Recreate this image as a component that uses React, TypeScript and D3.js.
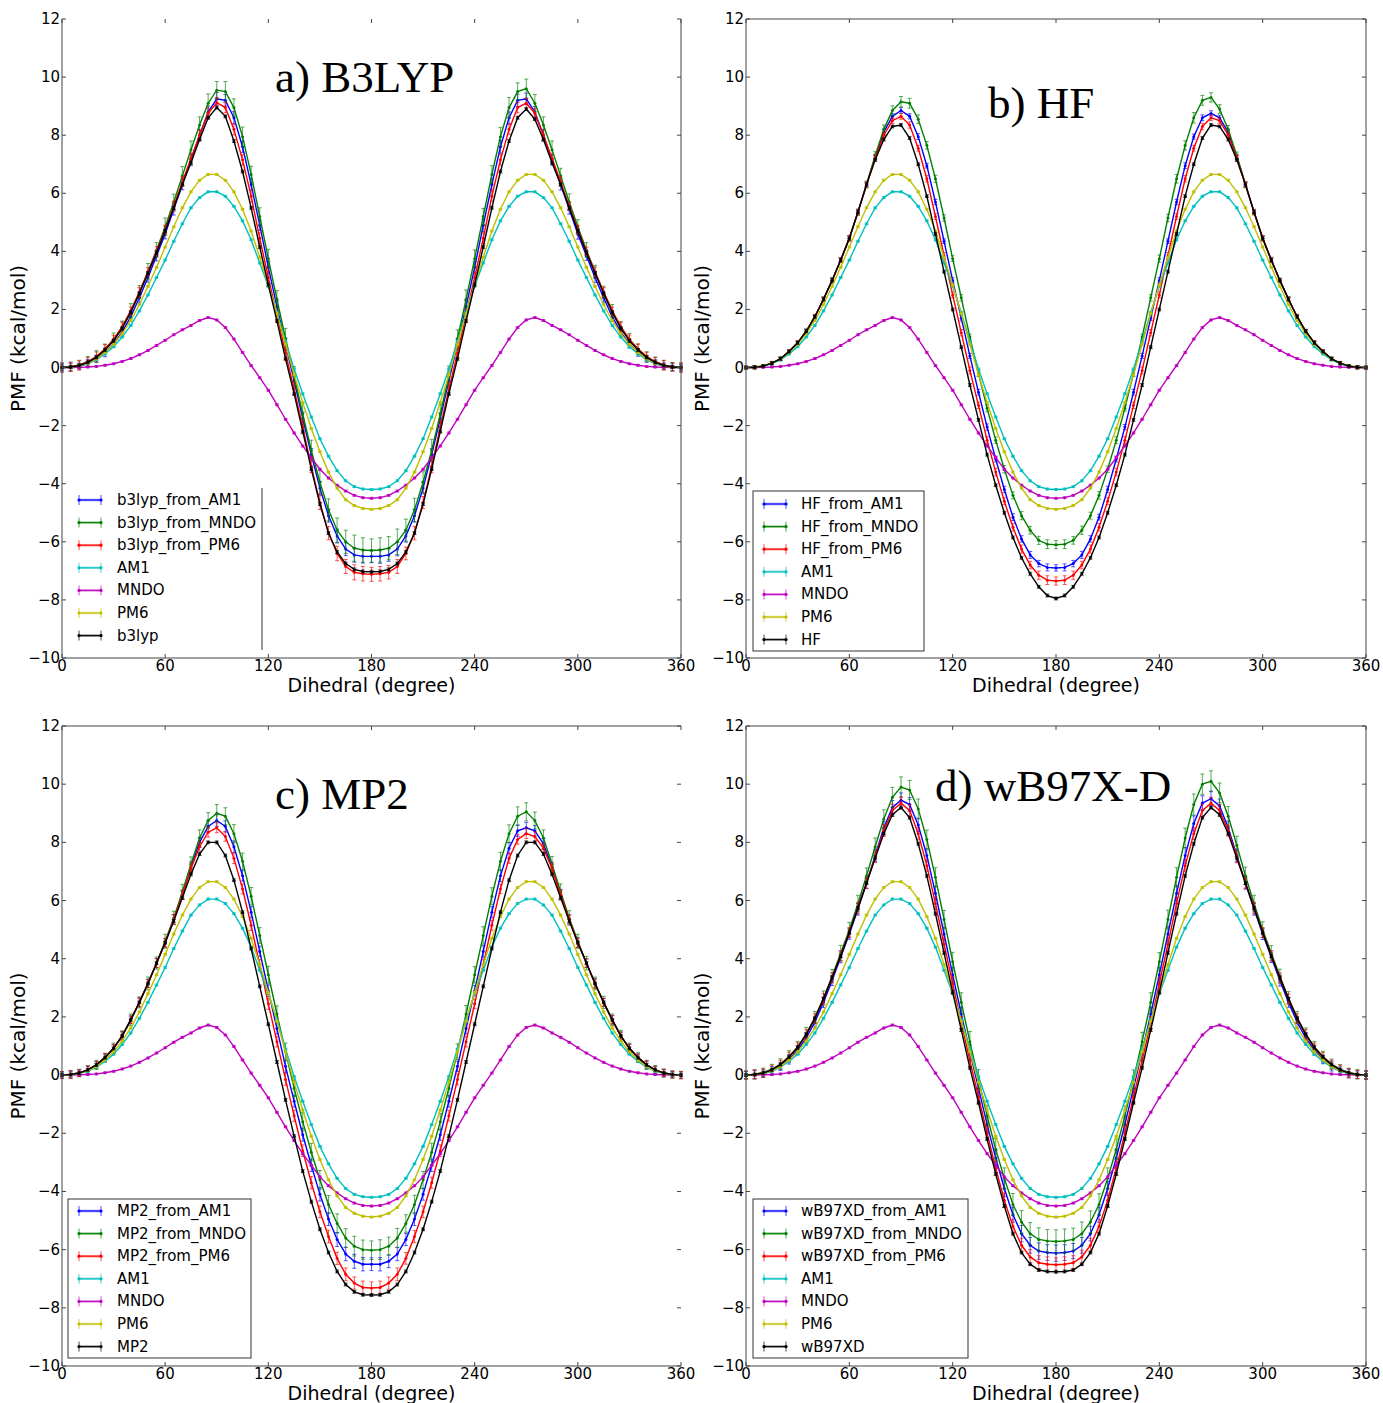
import React from 'react';
import * as d3 from 'd3';

// ---------------- data ----------------
const dihedral = [0,5,10,15,20,25,30,35,40,45,50,55,60,65,70,75,80,85,90,95,100,105,110,115,120,125,130,135,140,145,150,155,160,165,170,175,180,185,190,195,200,205,210,215,220,225,230,235,240,245,250,255,260,265,270,275,280,285,290,295,300,305,310,315,320,325,330,335,340,345,350,355,360];
const xTicks = [0, 60, 120, 180, 240, 300, 360];
const yTicks = [-10, -8, -6, -4, -2, 0, 2, 4, 6, 8, 10, 12];

// semi-empirical PMFs (shared by all panels)
const am1 = [0,.01,.05,.13,.27,.47,.72,1.05,1.45,1.95,2.5,3.1,3.7,4.35,4.95,5.5,5.85,6.05,6.05,5.9,5.55,5.05,4.4,3.6,2.8,1.9,.9,-.05,-.9,-1.7,-2.45,-3.05,-3.55,-3.9,-4.1,-4.18,-4.2,
  -4.18,-4.1,-3.9,-3.55,-3.05,-2.45,-1.7,-.9,-.05,.9,1.9,2.8,3.6,4.4,5.05,5.55,5.9,6.05,6.05,5.85,5.5,4.95,4.35,3.7,3.1,2.5,1.95,1.45,1.05,.72,.47,.27,.13,.05,.01,0];
const mndo = [0,0,.01,.02,.04,.08,.13,.21,.31,.44,.59,.76,.94,1.13,1.3,1.45,1.62,1.72,1.64,1.38,.98,.52,.07,-.35,-.78,-1.28,-1.78,-2.25,-2.7,-3.1,-3.5,-3.8,-4.05,-4.25,-4.4,-4.48,-4.5,
  -4.48,-4.4,-4.25,-4.05,-3.8,-3.5,-3.1,-2.7,-2.25,-1.78,-1.28,-.78,-.35,.07,.52,.98,1.38,1.64,1.72,1.62,1.45,1.3,1.13,.94,.76,.59,.44,.31,.21,.13,.08,.04,.02,.01,0,0];
const pm6 = [0,.01,.06,.15,.3,.52,.8,1.17,1.62,2.17,2.8,3.45,4.15,4.85,5.5,6.05,6.45,6.65,6.65,6.45,6.05,5.45,4.7,3.8,2.85,1.85,.8,-.25,-1.2,-2.1,-2.9,-3.6,-4.15,-4.55,-4.75,-4.85,-4.88,
  -4.85,-4.75,-4.55,-4.15,-3.6,-2.9,-2.1,-1.2,-.25,.8,1.85,2.85,3.8,4.7,5.45,6.05,6.45,6.65,6.65,6.45,6.05,5.5,4.85,4.15,3.45,2.8,2.17,1.62,1.17,.8,.52,.3,.15,.06,.01,0];

// a) B3LYP
const b3lyp = [0,.02,.07,.18,.35,.6,.92,1.35,1.9,2.55,3.25,3.95,4.7,5.5,6.3,7.05,7.85,8.6,8.95,8.65,7.8,6.75,5.5,4.15,2.85,1.6,.3,-.9,-2.2,-3.5,-4.7,-5.7,-6.35,-6.75,-6.95,-7.02,-7.03,
  -7.02,-6.95,-6.75,-6.35,-5.7,-4.7,-3.5,-2.2,-.9,.3,1.6,2.85,4.15,5.5,6.75,7.8,8.6,8.9,8.55,7.85,7.05,6.3,5.5,4.7,3.95,3.25,2.55,1.9,1.35,.92,.6,.35,.18,.07,.02,0];
const b3lypFromPM6 = [0,.02,.08,.2,.38,.64,.97,1.4,1.95,2.6,3.3,4.0,4.75,5.55,6.4,7.2,8.0,8.75,9.12,8.95,8.2,7.15,5.9,4.45,3.1,1.8,.5,-.75,-2.05,-3.4,-4.65,-5.7,-6.4,-6.85,-7.05,-7.1,-7.12,
  -7.1,-7.05,-6.85,-6.4,-5.7,-4.65,-3.4,-2.05,-.75,.5,1.8,3.1,4.45,5.9,7.15,8.2,8.95,9.1,8.75,8.0,7.2,6.4,5.55,4.75,4.0,3.3,2.6,1.95,1.4,.97,.64,.38,.2,.08,.02,0];
const b3lypFromAM1 = [0,.01,.05,.14,.3,.52,.82,1.22,1.75,2.4,3.1,3.85,4.6,5.45,6.3,7.15,8.0,8.8,9.25,9.2,8.6,7.6,6.3,4.9,3.45,2.1,.8,-.45,-1.75,-3.0,-4.15,-5.1,-5.8,-6.25,-6.45,-6.5,-6.5,
  -6.5,-6.45,-6.25,-5.8,-5.1,-4.15,-3.0,-1.75,-.45,.8,2.1,3.45,4.9,6.3,7.6,8.6,9.2,9.25,8.8,8.0,7.15,6.3,5.45,4.6,3.85,3.1,2.4,1.75,1.22,.82,.52,.3,.14,.05,.01,0];
const b3lypFromMNDO = [0,.03,.09,.2,.38,.64,.97,1.4,1.95,2.6,3.3,4.05,4.85,5.7,6.6,7.5,8.35,9.1,9.55,9.5,8.95,7.95,6.65,5.2,3.75,2.35,1.0,-.3,-1.6,-2.85,-3.95,-4.9,-5.6,-6.0,-6.22,-6.28,-6.3,
  -6.28,-6.22,-6.0,-5.6,-4.9,-3.95,-2.85,-1.6,-.3,1.0,2.35,3.75,5.2,6.65,7.95,8.95,9.5,9.6,9.1,8.35,7.5,6.6,5.7,4.85,4.05,3.3,2.6,1.95,1.4,.97,.64,.38,.2,.09,.03,0];
const b3lypFromAM1Err = [.1,.12,.1,.13,.12,.15,.13,.16,.15,.17,.16,.18,.17,.2,.18,.2,.19,.2,
  .22,.2,.21,.19,.2,.18,.2,.19,.21,.2,.22,.21,.23,.22,.24,.22,.25,.23,.22,.24,.22,.23,.21,.22,.2,.21,.19,.2,.18,.2,.19,.21,.2,.22,.2,.21,.2,
  .19,.2,.18,.19,.17,.18,.16,.17,.15,.16,.14,.15,.13,.12,.13,.11,.12,.1];
const b3lypFromMNDOErr = [.15,.16,.14,.18,.2,.17,.22,.2,.25,.22,.28,.25,.3,.27,.32,.3,.28,.32,
  .3,.35,.3,.33,.28,.3,.32,.3,.35,.33,.38,.35,.4,.38,.42,.4,.45,.42,.4,.42,.4,.44,.38,.4,.36,.38,.33,.35,.3,.32,.3,.28,.3,.32,.35,.3,.33,
  .3,.28,.3,.26,.28,.24,.25,.22,.2,.22,.18,.2,.17,.16,.15,.15,.14,.15];
const b3lypFromPM6Err = [.16,.15,.17,.14,.16,.15,.14,.16,.13,.15,.14,.16,.15,.17,.16,.18,.17,.18,
  .18,.17,.19,.18,.2,.19,.21,.2,.22,.21,.23,.22,.24,.23,.25,.24,.26,.25,.24,.25,.23,.24,.22,.23,.21,.22,.2,.21,.19,.2,.18,.19,.17,.18,.17,.18,.17,
  .16,.17,.15,.16,.14,.15,.14,.16,.15,.14,.16,.15,.17,.15,.16,.17,.15,.16];

// b) HF
const hf = [0,.01,.05,.15,.3,.55,.85,1.25,1.75,2.35,3.0,3.7,4.45,5.35,6.3,7.15,7.85,8.3,8.35,7.9,7.0,5.9,4.6,3.3,2.0,.7,-.6,-1.8,-3.0,-4.05,-5.0,-5.85,-6.55,-7.1,-7.55,-7.85,-7.95,
  -7.85,-7.55,-7.1,-6.55,-5.85,-5.0,-4.05,-3.0,-1.8,-.6,.7,2.0,3.3,4.6,5.9,7.0,7.9,8.35,8.3,7.85,7.15,6.3,5.35,4.45,3.7,3.0,2.35,1.75,1.25,.85,.55,.3,.15,.05,.01,0];
const hfFromPM6 = [0,.01,.05,.15,.3,.55,.85,1.25,1.75,2.35,3.0,3.7,4.45,5.35,6.3,7.2,8.0,8.5,8.65,8.35,7.55,6.5,5.2,3.85,2.5,1.2,-.1,-1.3,-2.5,-3.6,-4.6,-5.5,-6.25,-6.8,-7.15,-7.32,-7.35,
  -7.32,-7.15,-6.8,-6.25,-5.5,-4.6,-3.6,-2.5,-1.3,-.1,1.2,2.5,3.85,5.2,6.5,7.55,8.3,8.6,8.5,8.0,7.2,6.3,5.35,4.45,3.7,3.0,2.35,1.75,1.25,.85,.55,.3,.15,.05,.01,0];
const hfFromAM1 = [0,.01,.05,.15,.3,.55,.85,1.25,1.75,2.35,3.0,3.7,4.45,5.35,6.3,7.25,8.1,8.65,8.85,8.65,7.95,6.95,5.7,4.35,3.0,1.7,.4,-.85,-2.05,-3.15,-4.2,-5.15,-5.9,-6.45,-6.75,-6.88,-6.9,
  -6.88,-6.75,-6.45,-5.9,-5.15,-4.2,-3.15,-2.05,-.85,.4,1.7,3.0,4.35,5.7,6.95,7.95,8.6,8.75,8.6,8.1,7.25,6.3,5.35,4.45,3.7,3.0,2.35,1.75,1.25,.85,.55,.3,.15,.05,.01,0];
const hfFromMNDO = [0,.01,.05,.15,.3,.55,.85,1.25,1.75,2.35,3.0,3.7,4.45,5.35,6.3,7.3,8.2,8.85,9.15,9.1,8.55,7.65,6.5,5.15,3.75,2.4,1.05,-.2,-1.4,-2.5,-3.5,-4.4,-5.1,-5.6,-5.95,-6.08,-6.1,
  -6.08,-5.95,-5.6,-5.1,-4.4,-3.5,-2.5,-1.4,-.2,1.05,2.4,3.75,5.15,6.5,7.65,8.6,9.2,9.3,8.9,8.2,7.3,6.3,5.35,4.45,3.7,3.0,2.35,1.75,1.25,.85,.55,.3,.15,.05,.01,0];
const hfFromAM1Err = [.04,.05,.04,.05,.06,.05,.06,.07,.06,.07,.08,.07,.08,.09,.08,.09,.1,.09,
  .1,.09,.1,.08,.09,.08,.09,.1,.09,.1,.11,.1,.11,.12,.11,.12,.11,.12,.11,.12,.11,.12,.11,.1,.11,.1,.09,.1,.09,.08,.09,.08,.09,.1,.09,.1,.09,
  .09,.08,.09,.08,.07,.08,.07,.06,.07,.06,.05,.06,.05,.04,.05,.04,.05,.04];
const hfFromMNDOErr = [.05,.06,.05,.06,.07,.06,.07,.08,.07,.08,.1,.09,.1,.11,.12,.13,.15,.16,
  .18,.17,.15,.13,.12,.11,.1,.11,.1,.11,.12,.11,.13,.12,.14,.13,.14,.15,.14,.15,.13,.14,.12,.13,.11,.12,.1,.11,.1,.11,.12,.13,.15,.16,.18,.17,.16,
  .15,.13,.12,.11,.1,.09,.1,.08,.09,.08,.07,.08,.06,.07,.06,.05,.06,.05];
const hfFromPM6Err = [.05,.06,.05,.06,.05,.06,.07,.06,.07,.08,.07,.08,.09,.08,.09,.1,.09,.1,
  .1,.11,.1,.11,.1,.11,.1,.11,.12,.11,.12,.13,.12,.13,.14,.13,.14,.15,.14,.15,.14,.13,.14,.13,.12,.13,.12,.11,.12,.11,.1,.11,.1,.11,.1,.11,.1,
  .1,.09,.1,.09,.08,.09,.08,.07,.08,.07,.06,.07,.06,.05,.06,.05,.06,.05];

// c) MP2
const mp2 = [0,.02,.07,.18,.35,.6,.92,1.35,1.9,2.5,3.15,3.85,4.55,5.3,6.1,6.9,7.6,8.0,8.0,7.55,6.7,5.6,4.35,3.05,1.75,.45,-.85,-2.1,-3.3,-4.35,-5.3,-6.1,-6.75,-7.2,-7.45,-7.55,-7.56,
  -7.55,-7.45,-7.2,-6.75,-6.1,-5.3,-4.35,-3.3,-2.1,-.85,.45,1.75,3.05,4.35,5.6,6.7,7.55,8.0,8.0,7.6,6.9,6.1,5.3,4.55,3.85,3.15,2.5,1.9,1.35,.92,.6,.35,.18,.07,.02,0];
const mp2FromPM6 = [0,.02,.07,.18,.35,.6,.92,1.35,1.9,2.5,3.15,3.85,4.55,5.35,6.2,7.1,7.85,8.35,8.5,8.2,7.45,6.4,5.15,3.8,2.45,1.15,-.15,-1.4,-2.6,-3.7,-4.7,-5.55,-6.3,-6.85,-7.15,-7.3,-7.32,
  -7.3,-7.15,-6.85,-6.3,-5.55,-4.7,-3.7,-2.6,-1.4,-.15,1.15,2.45,3.8,5.15,6.4,7.45,8.1,8.3,8.2,7.8,7.1,6.2,5.35,4.55,3.85,3.15,2.5,1.9,1.35,.92,.6,.35,.18,.07,.02,0];
const mp2FromAM1 = [0,.02,.07,.18,.35,.6,.92,1.35,1.9,2.5,3.15,3.85,4.55,5.35,6.2,7.15,8.0,8.55,8.75,8.55,7.85,6.85,5.6,4.25,2.9,1.6,.3,-.9,-2.05,-3.1,-4.1,-4.95,-5.65,-6.15,-6.4,-6.5,-6.5,
  -6.5,-6.4,-6.15,-5.65,-4.95,-4.1,-3.1,-2.05,-.9,.3,1.6,2.9,4.25,5.6,6.85,7.8,8.4,8.5,8.4,7.95,7.15,6.2,5.35,4.55,3.85,3.15,2.5,1.9,1.35,.92,.6,.35,.18,.07,.02,0];
const mp2FromMNDO = [0,.02,.07,.18,.35,.6,.92,1.35,1.9,2.5,3.15,3.85,4.6,5.4,6.3,7.25,8.15,8.75,9.0,8.9,8.3,7.35,6.15,4.8,3.45,2.1,.8,-.45,-1.6,-2.65,-3.6,-4.45,-5.1,-5.6,-5.88,-6.0,-6.02,
  -6.0,-5.88,-5.6,-5.1,-4.45,-3.6,-2.65,-1.6,-.45,.8,2.1,3.45,4.8,6.15,7.35,8.3,8.9,9.05,8.75,8.15,7.25,6.3,5.4,4.6,3.85,3.15,2.5,1.9,1.35,.92,.6,.35,.18,.07,.02,0];
const mp2FromAM1Err = [.1,.11,.1,.12,.11,.13,.12,.14,.13,.15,.14,.16,.15,.17,.16,.18,.17,.19,
  .2,.19,.2,.18,.19,.18,.2,.19,.21,.2,.22,.21,.23,.22,.24,.23,.24,.23,.22,.23,.22,.23,.21,.22,.2,.21,.19,.2,.18,.19,.18,.2,.19,.2,.19,.2,.19,
  .18,.19,.17,.18,.16,.17,.15,.16,.14,.15,.13,.14,.12,.13,.11,.12,.1,.11];
const mp2FromMNDOErr = [.12,.14,.13,.15,.16,.15,.18,.17,.2,.19,.22,.21,.24,.23,.26,.25,.28,.27,
  .3,.29,.31,.28,.3,.27,.29,.28,.3,.29,.31,.3,.32,.31,.33,.32,.34,.33,.32,.34,.31,.33,.3,.32,.29,.31,.28,.3,.27,.29,.28,.3,.29,.31,.3,.32,.31,
  .29,.28,.26,.27,.25,.24,.23,.22,.21,.2,.19,.18,.17,.16,.15,.14,.13,.12];
const mp2FromPM6Err = [.12,.13,.12,.13,.12,.14,.13,.14,.13,.15,.14,.15,.14,.16,.15,.16,.15,.17,
  .17,.16,.18,.17,.18,.17,.19,.18,.2,.19,.2,.21,.2,.22,.21,.22,.21,.22,.21,.22,.21,.22,.2,.21,.2,.19,.2,.18,.19,.18,.17,.18,.17,.16,.17,.16,.17,
  .16,.15,.16,.15,.14,.15,.14,.15,.13,.14,.13,.14,.12,.13,.12,.13,.12,.13];

// d) wB97X-D
const wb97xd = [0,.02,.07,.18,.36,.62,.95,1.4,1.95,2.62,3.35,4.1,4.9,5.75,6.6,7.45,8.3,8.95,9.2,8.85,7.95,6.85,5.55,4.2,2.85,1.55,.25,-.95,-2.2,-3.4,-4.5,-5.45,-6.1,-6.5,-6.7,-6.75,-6.76,
  -6.75,-6.7,-6.5,-6.1,-5.45,-4.5,-3.4,-2.2,-.95,.25,1.55,2.85,4.2,5.55,6.85,7.95,8.85,9.2,8.95,8.3,7.45,6.6,5.75,4.9,4.1,3.35,2.62,1.95,1.4,.95,.62,.36,.18,.07,.02,0];
const wbFromPM6 = [0,.02,.07,.18,.36,.62,.95,1.4,1.95,2.62,3.35,4.1,4.9,5.75,6.6,7.5,8.4,9.1,9.35,9.1,8.3,7.2,5.9,4.5,3.15,1.8,.5,-.75,-2.0,-3.2,-4.3,-5.2,-5.85,-6.25,-6.45,-6.5,-6.52,
  -6.5,-6.45,-6.25,-5.85,-5.2,-4.3,-3.2,-2.0,-.75,.5,1.8,3.15,4.5,5.9,7.2,8.3,9.1,9.35,9.1,8.4,7.5,6.6,5.75,4.9,4.1,3.35,2.62,1.95,1.4,.95,.62,.36,.18,.07,.02,0];
const wbFromAM1 = [0,.01,.05,.14,.3,.54,.86,1.28,1.82,2.5,3.25,4.05,4.85,5.7,6.6,7.55,8.5,9.2,9.45,9.3,8.6,7.55,6.25,4.85,3.45,2.1,.8,-.45,-1.7,-2.85,-3.9,-4.8,-5.45,-5.85,-6.05,-6.1,-6.12,
  -6.1,-6.05,-5.85,-5.45,-4.8,-3.9,-2.85,-1.7,-.45,.8,2.1,3.45,4.85,6.25,7.55,8.65,9.35,9.5,9.25,8.5,7.55,6.6,5.7,4.85,4.05,3.25,2.5,1.82,1.28,.86,.54,.3,.14,.05,.01,0];
const wbFromMNDO = [0,.03,.09,.2,.38,.64,.97,1.42,1.98,2.65,3.4,4.2,5.0,5.9,6.85,7.85,8.8,9.55,9.9,9.8,9.15,8.1,6.8,5.35,3.9,2.5,1.15,-.15,-1.4,-2.55,-3.55,-4.45,-5.05,-5.45,-5.65,-5.7,-5.72,
  -5.7,-5.65,-5.45,-5.05,-4.45,-3.55,-2.55,-1.4,-.15,1.15,2.5,3.9,5.35,6.8,8.15,9.3,10.0,10.1,9.7,8.9,7.9,6.85,5.9,5.0,4.2,3.4,2.65,1.98,1.42,.97,.64,.38,.2,.09,.03,0];
const wbFromAM1Err = [.12,.14,.13,.15,.14,.16,.15,.17,.16,.18,.17,.19,.18,.2,.19,.21,.22,.24,
  .25,.24,.23,.22,.23,.22,.24,.23,.25,.24,.26,.25,.27,.26,.28,.27,.28,.27,.28,.27,.26,.27,.25,.26,.24,.25,.23,.24,.22,.23,.24,.25,.26,.27,.26,.25,.26,
  .24,.23,.22,.21,.2,.19,.18,.19,.17,.18,.16,.17,.15,.16,.14,.15,.13,.12];
const wbFromMNDOErr = [.14,.16,.15,.17,.18,.2,.19,.22,.21,.24,.23,.26,.25,.28,.27,.3,.32,.34,
  .35,.33,.34,.32,.33,.31,.32,.33,.35,.34,.36,.37,.36,.38,.39,.38,.4,.39,.4,.41,.39,.4,.38,.37,.36,.35,.34,.33,.32,.33,.31,.32,.33,.34,.36,.35,.36,
  .34,.33,.31,.3,.28,.27,.25,.24,.22,.21,.2,.19,.18,.17,.16,.15,.16,.15];
const wbFromPM6Err = [.14,.15,.14,.16,.15,.17,.16,.17,.16,.18,.17,.18,.17,.19,.18,.19,.2,.21,
  .21,.2,.21,.2,.21,.2,.22,.21,.22,.23,.22,.23,.24,.23,.24,.25,.24,.25,.24,.25,.24,.23,.24,.23,.22,.23,.22,.21,.22,.21,.2,.21,.2,.21,.2,.21,.2,
  .2,.19,.2,.18,.19,.17,.18,.16,.17,.16,.17,.15,.16,.15,.16,.15,.14,.15];

const methodErr = 0.05;
const semiErr = 0.03;

// ---------------- styling ----------------
const C = {
  blue: '#0000ff', green: '#008000', red: '#ff0000', cyan: '#00bfbf',
  magenta: '#bf00bf', yellow: '#bfbf00', black: '#000000',
};
const SANS = "'DejaVu Sans', Verdana, sans-serif";
const SERIF = "'Liberation Serif', 'Times New Roman', serif";

type Series = { label: string; values: number[]; err: number[] | number; color: string };
type Spines = { left: boolean; right: boolean; top: boolean; bottom: boolean };
type LegendCfg = { frame: 'right' | 'full'; bx: number; by: number; bw: number; bh: number; row0: number; step: number; hx: number; tx: number };
type PanelCfg = { title: string; tx: number; ty: number; x0: number; x1: number; yTop: number; yBot: number; spines: Spines; legend: LegendCfg; series: Series[] };

function makeSeries(prefix: string, method: string, fromAM1: number[], fromMNDO: number[], fromPM6: number[], methodVals: number[],
  eA: number[], eM: number[], eP: number[]): Series[] {
  return [
    { label: `${prefix}_from_AM1`, values: fromAM1, err: eA, color: C.blue },
    { label: `${prefix}_from_MNDO`, values: fromMNDO, err: eM, color: C.green },
    { label: `${prefix}_from_PM6`, values: fromPM6, err: eP, color: C.red },
    { label: 'AM1', values: am1, err: semiErr, color: C.cyan },
    { label: 'MNDO', values: mndo, err: semiErr, color: C.magenta },
    { label: 'PM6', values: pm6, err: semiErr, color: C.yellow },
    { label: method, values: methodVals, err: methodErr, color: C.black },
  ];
}

const panels: PanelCfg[] = [
  {
    title: 'a) B3LYP', tx: 275, ty: 92, x0: 62, x1: 681, yTop: 19, yBot: 658,
    spines: { left: true, right: true, top: false, bottom: true },
    legend: { frame: 'right', bx: 68, by: 488, bw: 194, bh: 162, row0: 500, step: 22.6, hx: 79, tx: 117 },
    series: makeSeries('b3lyp', 'b3lyp', b3lypFromAM1, b3lypFromMNDO, b3lypFromPM6, b3lyp, b3lypFromAM1Err, b3lypFromMNDOErr, b3lypFromPM6Err),
  },
  {
    title: 'b) HF', tx: 988, ty: 118, x0: 746, x1: 1366, yTop: 19, yBot: 658,
    spines: { left: true, right: true, top: true, bottom: true },
    legend: { frame: 'full', bx: 753, by: 491, bw: 171, bh: 160, row0: 504, step: 22.6, hx: 764, tx: 801 },
    series: makeSeries('HF', 'HF', hfFromAM1, hfFromMNDO, hfFromPM6, hf, hfFromAM1Err, hfFromMNDOErr, hfFromPM6Err),
  },
  {
    title: 'c) MP2', tx: 275, ty: 809, x0: 62, x1: 681, yTop: 726, yBot: 1366,
    spines: { left: true, right: false, top: true, bottom: true },
    legend: { frame: 'full', bx: 68, by: 1199, bw: 183, bh: 159, row0: 1211, step: 22.6, hx: 79, tx: 117 },
    series: makeSeries('MP2', 'MP2', mp2FromAM1, mp2FromMNDO, mp2FromPM6, mp2, mp2FromAM1Err, mp2FromMNDOErr, mp2FromPM6Err),
  },
  {
    title: 'd) wB97X-D', tx: 935, ty: 801, x0: 746, x1: 1366, yTop: 726, yBot: 1366,
    spines: { left: true, right: true, top: true, bottom: true },
    legend: { frame: 'full', bx: 753, by: 1199, bw: 215, bh: 159, row0: 1211, step: 22.6, hx: 764, tx: 801 },
    series: makeSeries('wB97XD', 'wB97XD', wbFromAM1, wbFromMNDO, wbFromPM6, wb97xd, wbFromAM1Err, wbFromMNDOErr, wbFromPM6Err),
  },
];

const fmt = (v: number) => (v < 0 ? '\u2212' + Math.abs(v) : String(v));

function Panel({ p }: { p: PanelCfg }) {
  const x = d3.scaleLinear().domain([0, 360]).range([p.x0, p.x1]);
  const y = d3.scaleLinear().domain([-10, 12]).range([p.yBot, p.yTop]);
  const line = d3.line<[number, number]>().x(d => x(d[0])).y(d => y(d[1]));
  const tl = 4;
  const spineColor = '#444';
  const lg = p.legend;
  return (
    <g>
      {/* data */}
      {p.series.map((s, si) => {
        const n = Math.min(dihedral.length, s.values.length);
        const pts: [number, number][] = [];
        for (let i = 0; i < n; i++) pts.push([dihedral[i], s.values[i]]);
        return (
          <g key={si}>
            <g stroke={s.color} strokeOpacity={0.65} strokeWidth={1}>
              {pts.map(([a, v], i) => {
                const e = Array.isArray(s.err) ? (s.err[i] ?? 0) : s.err;
                const xx = x(a);
                const y1 = y(v - e), y2 = y(v + e);
                return (
                  <g key={i}>
                    <line x1={xx} x2={xx} y1={y1} y2={y2} />
                    <line x1={xx - 2} x2={xx + 2} y1={y1} y2={y1} />
                    <line x1={xx - 2} x2={xx + 2} y1={y2} y2={y2} />
                  </g>
                );
              })}
            </g>
            <path d={line(pts) || ''} fill="none" stroke={s.color} strokeWidth={1.4} />
            <g fill={s.color}>
              {pts.map(([a, v], i) => <circle key={i} cx={x(a)} cy={y(v)} r={1.5} />)}
            </g>
          </g>
        );
      })}

      {/* spines */}
      <g stroke={spineColor} strokeWidth={1}>
        {p.spines.left && <line x1={p.x0} x2={p.x0} y1={p.yTop} y2={p.yBot} />}
        {p.spines.right && <line x1={p.x1} x2={p.x1} y1={p.yTop} y2={p.yBot} />}
        {p.spines.top && <line x1={p.x0} x2={p.x1} y1={p.yTop} y2={p.yTop} />}
        {p.spines.bottom && <line x1={p.x0} x2={p.x1} y1={p.yBot} y2={p.yBot} />}
      </g>
      {/* ticks (inward, all sides) */}
      <g stroke={spineColor} strokeWidth={1}>
        {xTicks.map(t => (
          <g key={'xt' + t}>
            <line x1={x(t)} x2={x(t)} y1={p.yBot} y2={p.yBot - tl} />
            <line x1={x(t)} x2={x(t)} y1={p.yTop} y2={p.yTop + tl} />
          </g>
        ))}
        {yTicks.map(t => (
          <g key={'yt' + t}>
            <line x1={p.x0} x2={p.x0 + tl} y1={y(t)} y2={y(t)} />
            <line x1={p.x1} x2={p.x1 - tl} y1={y(t)} y2={y(t)} />
          </g>
        ))}
      </g>
      <g fontFamily={SANS} fontSize={15} fill="#000">
        {xTicks.map(t => (
          <text key={'xl' + t} x={x(t)} y={p.yBot + 8} textAnchor="middle" dominantBaseline="central">{fmt(t)}</text>
        ))}
        {yTicks.map(t => (
          <text key={'yl' + t} x={p.x0 - 2} y={y(t)} textAnchor="end" dominantBaseline="central">{fmt(t)}</text>
        ))}
      </g>
      {/* axis labels */}
      <text x={(p.x0 + p.x1) / 2} y={p.yBot + 27} textAnchor="middle" dominantBaseline="central" fontFamily={SANS} fontSize={19}>Dihedral (degree)</text>
      <text transform={`translate(${p.x0 - 44},${(p.yTop + p.yBot) / 2}) rotate(-90)`} textAnchor="middle" dominantBaseline="central" fontFamily={SANS} fontSize={20}>PMF (kcal/mol)</text>
      {/* title */}
      <text x={p.tx} y={p.ty} fontFamily={SERIF} fontSize={45}>{p.title}</text>
      {/* legend */}
      <g>
        {lg.frame === 'full' ? (
          <rect x={lg.bx} y={lg.by} width={lg.bw} height={lg.bh} fill="#fff" stroke="#333" strokeWidth={1} />
        ) : (
          <line x1={lg.bx + lg.bw} x2={lg.bx + lg.bw} y1={lg.by} y2={lg.by + lg.bh} stroke="#333" strokeWidth={1} />
        )}
        {p.series.map((s, i) => {
          const ry = lg.row0 + i * lg.step;
          const hx0 = lg.hx, hx1 = lg.hx + 22;
          return (
            <g key={'lg' + i}>
              <line x1={hx0} x2={hx1} y1={ry} y2={ry} stroke={s.color} strokeWidth={2.5} strokeOpacity={0.45} />
              <line x1={hx0} x2={hx1} y1={ry} y2={ry} stroke={s.color} strokeWidth={1} />
              <line x1={hx0} x2={hx0} y1={ry - 5} y2={ry + 5} stroke={s.color} strokeWidth={1} strokeOpacity={0.7} />
              <line x1={hx1} x2={hx1} y1={ry - 5} y2={ry + 5} stroke={s.color} strokeWidth={1} strokeOpacity={0.7} />
              <circle cx={hx0} cy={ry} r={1.6} fill={s.color} />
              <circle cx={hx1} cy={ry} r={1.6} fill={s.color} />
              <text x={lg.tx} y={ry} dominantBaseline="central" fontFamily={SANS} fontSize={15}>{s.label}</text>
            </g>
          );
        })}
      </g>
    </g>
  );
}

export default function App() {
  return (
    <div style={{ position: 'absolute', left: 0, top: 0, width: 1383, height: 1403, background: '#fff' }}>
      <svg width={1383} height={1403} viewBox="0 0 1383 1403" style={{ display: 'block' }}>
        <rect x={0} y={0} width={1383} height={1403} fill="#fff" />
        {panels.map((p, i) => <Panel key={i} p={p} />)}
      </svg>
    </div>
  );
}
